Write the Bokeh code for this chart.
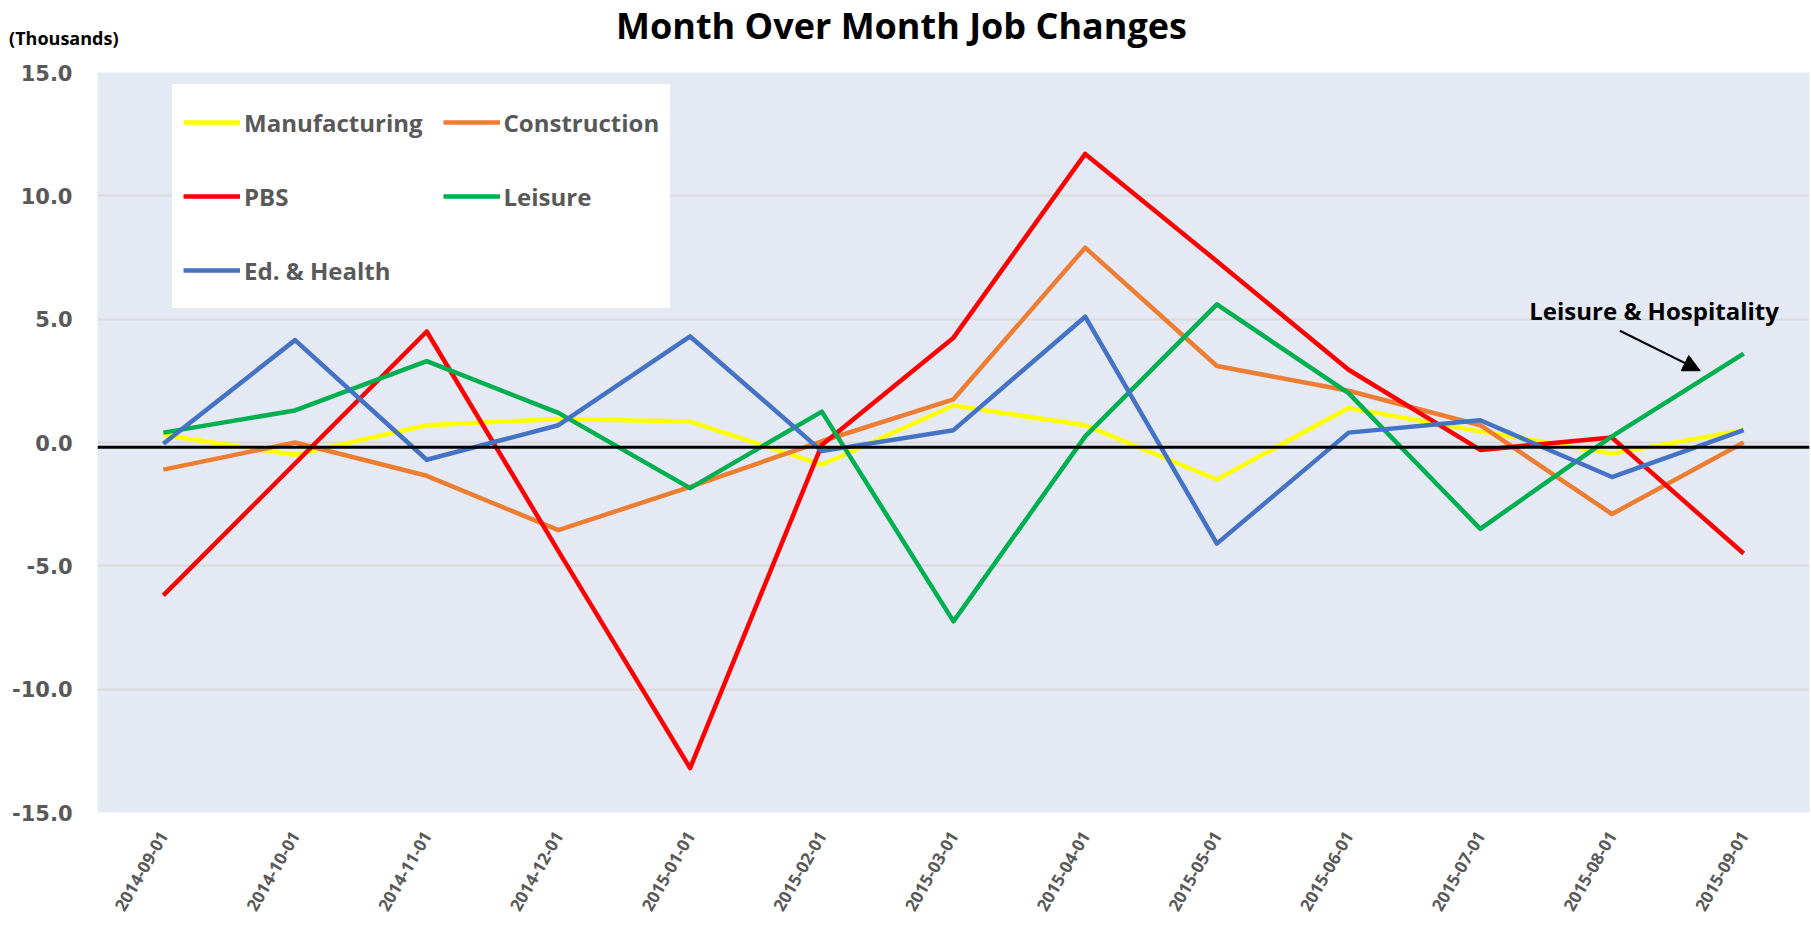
import math
from bokeh.plotting import figure
from bokeh.layouts import column
from bokeh.models import (FactorRange, Range1d, Legend, LegendItem, Span, Label, LinearAxis,
                          Arrow, NormalHead, FixedTicker, NumeralTickFormatter, ColumnDataSource)
from bokeh.embed import file_html
from bokeh.resources import INLINE

dates = ["2014-09-01", "2014-10-01", "2014-11-01", "2014-12-01", "2015-01-01",
         "2015-02-01", "2015-03-01", "2015-04-01", "2015-05-01", "2015-06-01",
         "2015-07-01", "2015-08-01", "2015-09-01"]

manufacturing = [0.3, -0.5, 0.7, 0.95, 0.85, -0.9, 1.5, 0.7, -1.5, 1.4, 0.45, -0.45, 0.5]
construction = [-1.1, 0.0, -1.35, -3.55, -1.8, 0.05, 1.75, 7.9, 3.1, 2.1, 0.7, -2.9, 0.0]
pbs = [-6.2, -0.85, 4.5, -4.4, -13.2, -0.1, 4.25, 11.7, 7.35, 2.95, -0.3, 0.2, -4.5]
leisure = [0.4, 1.3, 3.3, 1.2, -1.85, 1.25, -7.25, 0.25, 5.6, 2.0, -3.5, 0.25, 3.6]
ed_health = [-0.05, 4.15, -0.7, 0.7, 4.3, -0.35, 0.5, 5.1, -4.1, 0.4, 0.9, -1.4, 0.5]

series_names = ["Manufacturing", "Construction", "PBS", "Leisure", "Ed. & Health"]
series_values = [manufacturing, construction, pbs, leisure, ed_health]
series_colors = ["#FFFF00", "#ED7D31", "#FF0000", "#00B050", "#4472C4"]

y_ticks = [-15, -10, -5, 0, 5, 10, 15]

title_text = "Month Over Month Job Changes"
units_text = "(Thousands)"
note_text = "Leisure & Hospitality"

# --- header strip (title and units caption) ---
head = figure(width=1811, height=52, x_range=Range1d(97, 1809), y_range=Range1d(0, 52),
              x_axis_type=None, y_axis_type=None,
              output_backend="svg", toolbar_location=None,
              min_border_left=0, min_border_right=0, min_border_top=0, min_border_bottom=0)
head.grid.visible = False
head.outline_line_color = None
head.background_fill_color = "white"
head.border_fill_color = "white"
head.add_layout(Label(x=901, y=27, text=title_text,
                      text_font="Open Sans", text_font_style="bold", text_font_size="36px",
                      text_color="black", text_align="center", text_baseline="alphabetic"))
units_axis = LinearAxis(ticker=FixedTicker(ticks=[15]),
                        major_label_overrides={15: units_text},
                        axis_line_color=None, major_tick_line_color=None,
                        minor_tick_line_color=None, major_label_standoff=-27,
                        major_label_text_font="Open Sans", major_label_text_font_style="bold",
                        major_label_text_font_size="18px", major_label_text_color="black")
head.add_layout(units_axis, "left")

# --- main chart ---
p = figure(width=1811, height=874,
           x_range=FactorRange(factors=dates, range_padding=0),
           y_range=Range1d(-15, 15),
           output_backend="svg", toolbar_location=None,
           min_border_left=97, min_border_right=2,
           min_border_top=20, min_border_bottom=114)

p.background_fill_color = "#E4E9F4"
p.border_fill_color = "white"
p.outline_line_color = None

p.xgrid.visible = False
p.ygrid.grid_line_color = "#D9D9D9"
p.ygrid.grid_line_width = 2
p.yaxis.ticker = FixedTicker(ticks=y_ticks)
p.yaxis.formatter = NumeralTickFormatter(format="0.0")

for ax in (p.xaxis, p.yaxis):
    ax.axis_line_color = None
    ax.major_tick_line_color = None
    ax.minor_tick_line_color = None
    ax.major_label_text_color = "#595959"
    ax.major_label_text_font_style = "bold"

p.yaxis.major_label_text_font = "DejaVu Sans"
p.yaxis.major_label_text_font_size = "21px"
p.yaxis.major_label_standoff = 19

p.xaxis.major_label_text_font = "Open Sans"
p.xaxis.major_label_text_font_size = "17px"
p.xaxis.major_label_orientation = math.radians(60)
p.xaxis.major_label_standoff = 14

items = []
for name, vals, col in zip(series_names, series_values, series_colors):
    src = ColumnDataSource(dict(x=dates, y=vals))
    r = p.line("x", "y", source=src, line_color=col, line_width=4.5, line_join="round")
    items.append(LegendItem(label=name, renderers=[r]))

zero = Span(location=-0.19, dimension="width", line_color="black", line_width=3)
p.add_layout(zero)

legend = Legend(items=items, ncols=2, orientation="horizontal",
                location=(75, 504),
                label_text_font="Open Sans", label_text_font_style="bold",
                label_text_font_size="24px", label_text_color="#595959",
                glyph_width=57, glyph_height=54, label_height=54,
                spacing=20, padding=10, label_standoff=4,
                background_fill_color="white", background_fill_alpha=1.0,
                border_line_color="white", border_line_width=1)
p.add_layout(legend, "center")

p.add_layout(Label(x=11.82, y=5.37, text=note_text,
                   text_font="Open Sans", text_font_style="bold", text_font_size="24px",
                   text_color="black", text_align="center", text_baseline="alphabetic"))
p.add_layout(Arrow(x_start=11.56, y_start=4.53, x_end=12.17, y_end=2.91,
                   line_color="black", line_width=2,
                   end=NormalHead(size=17, fill_color="black", line_color="black")))

layout = column(head, p, spacing=0)
open("out.html", "w").write(file_html(layout, INLINE))
